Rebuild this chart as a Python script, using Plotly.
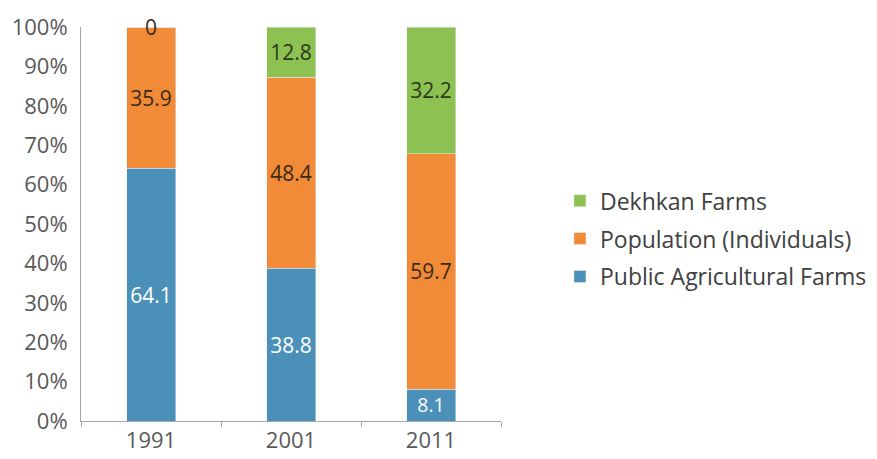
import plotly.graph_objects as go

years = ["1991", "2001", "2011"]
public_farms = [64.1, 38.8, 8.1]
population = [35.9, 48.4, 59.7]
dekhkan = [0, 12.8, 32.2]
tick_vals = [0, 10, 20, 30, 40, 50, 60, 70, 80, 90, 100]
tick_text = [f"{v}%" for v in tick_vals]

FONT = "Open Sans"
BW = 0.35
fig = go.Figure()
fig.add_trace(go.Bar(
    name="Public Agricultural Farms", x=years, y=public_farms,
    marker_color="#4A90B8", text=[f"{v}" for v in public_farms],
    textposition="inside", insidetextanchor="middle",
    textfont=dict(color="white", size=21, family=FONT), width=BW,
    legendgroup="a", legendrank=3))
fig.add_trace(go.Bar(
    name="Population (Individuals)", x=years, y=population,
    marker_color="#F28B37", text=[f"{v}" for v in population],
    textposition="inside", insidetextanchor="middle",
    textfont=dict(color="#3a2a1a", size=21, family=FONT), width=BW,
    legendgroup="b", legendrank=2))
fig.add_trace(go.Bar(
    name="Dekhkan Farms", x=years, y=dekhkan,
    marker_color="#8DC152",
    text=[f"{v:g}" if v > 0 else "" for v in dekhkan],
    textposition="inside", insidetextanchor="middle",
    textfont=dict(color="#2a3a1a", size=21, family=FONT), width=BW,
    legendgroup="c", legendrank=1))

# label for zero-height segments, placed at the top of the stack
# (x given as category index so the numeric-looking name is not read as a number)
for i, v in enumerate(dekhkan):
    if v == 0:
        top = public_farms[i] + population[i] + dekhkan[i]
        fig.add_annotation(x=i, y=top, xref="x", yref="y", text=f"{v:g}",
                           showarrow=False, yanchor="middle", yshift=0,
                           font=dict(color="#3a2a1a", size=21, family=FONT))

fig.update_layout(
    barmode="stack",
    width=877, height=459,
    margin=dict(l=81, r=376, t=27, b=38, autoexpand=False),
    plot_bgcolor="white", paper_bgcolor="white",
    font=dict(family=FONT, color="#595959", size=22),
    legend=dict(xref="container", yref="container", x=0.6385, y=0.48,
                xanchor="left", yanchor="middle",
                traceorder="grouped", tracegroupgap=5,
                font=dict(size=23, color="#404040")),
    showlegend=True,
)
fig.update_xaxes(type="category", showline=True, linecolor="#A6A6A6", linewidth=1,
                 ticks="outside", tickson="boundaries", ticklen=5,
                 tickcolor="#A6A6A6", tickfont=dict(size=22), automargin=False,
                 tickangle=0)
fig.update_yaxes(range=[0, 100], tickmode="array", tickvals=tick_vals,
                 ticktext=tick_text,
                 showgrid=False, showline=True, linecolor="#A6A6A6",
                 linewidth=1, zeroline=False, ticks="", tickfont=dict(size=22),
                 ticklabelstandoff=8, automargin=False)

fig.write_html("out.html")
